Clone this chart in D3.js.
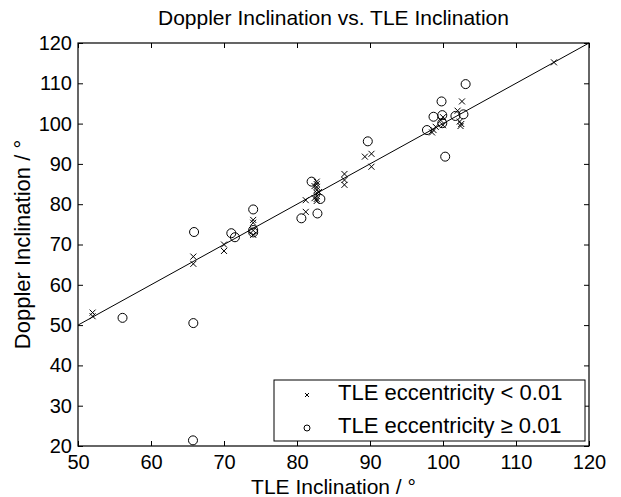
<!DOCTYPE html>
<html>
<head>
<meta charset="utf-8">
<script src="https://cdn.jsdelivr.net/npm/d3@7"></script>
<style>
  body { margin: 0; background: #fff; }
  svg { font-family: "Liberation Sans", Arial, sans-serif; }
</style>
</head>
<body>
<div class="visContainer"></div>
<script>
// TLE eccentricity < 0.01  [TLE inclination, Doppler inclination]
const lowEcc = [
  [52.0, 53.1], [52.0, 52.2], [65.8, 67.0], [65.8, 65.2], [70.0, 70.0], [70.0, 68.4],
  [74.0, 76.1], [74.0, 75.4], [74.0, 73.5], [74.0, 72.4], [81.2, 81.0], [81.2, 78.1],
  [82.7, 85.6], [82.7, 85.0], [82.7, 84.3], [82.7, 83.5], [82.7, 82.8], [82.7, 82.0],
  [82.7, 81.3], [82.7, 80.8], [82.4, 84.5], [82.4, 81.5], [83.0, 83.0],
  [86.5, 87.5], [86.5, 86.0], [86.5, 84.8], [89.3, 91.8], [90.2, 92.5], [90.2, 89.3],
  [98.7, 98.4], [98.5, 97.8], [99.0, 99.2], [100.0, 101.6], [100.0, 99.6], [99.7, 100.8],
  [102.6, 105.5], [102.0, 103.2], [102.3, 100.5], [102.5, 99.9], [102.4, 99.4],
  [115.2, 115.2]
];

// TLE eccentricity >= 0.01
const highEcc = [
  [56.1, 51.8], [65.9, 73.1], [65.8, 50.5], [65.75, 21.4], [71.0, 72.8], [71.5, 71.8],
  [74.0, 78.7], [74.0, 73.6], [74.0, 73.0], [80.6, 76.5], [82.0, 85.6], [83.2, 81.3],
  [82.8, 77.7], [89.7, 95.6], [103.1, 109.8], [99.8, 105.5], [98.7, 101.7], [99.9, 102.1],
  [97.8, 98.4], [99.9, 100.1], [101.7, 101.9], [102.8, 102.3], [100.3, 91.8]
];

const xTicks = [50, 60, 70, 80, 90, 100, 110, 120];
const yTicks = [20, 30, 40, 50, 60, 70, 80, 90, 100, 110, 120];
const legendLabels = ['TLE eccentricity < 0.01', 'TLE eccentricity \u2265 0.01'];

const width = 621;
const height = 497;
const margin = {top: 43, right: 32, bottom: 51, left: 78};

const svg = d3.select('.visContainer')
              .append('svg')
              .attr('width', width)
              .attr('height', height);

const xScale = d3.scaleLinear().domain([50, 120]).range([margin.left, width - margin.right]);
const yScale = d3.scaleLinear().domain([20, 120]).range([height - margin.bottom, margin.top]);

const x0 = margin.left, x1 = width - margin.right;
const y0 = margin.top, y1 = height - margin.bottom;

// axes with inward ticks on all four sides
const tickLen = 5;
svg.append('g')
   .attr('transform', `translate(0,${y1})`)
   .call(d3.axisBottom(xScale).tickValues(xTicks).tickSizeInner(-tickLen).tickSizeOuter(0).tickPadding(9))
   .call(g => g.selectAll('text').attr('font-size', 20).attr('fill', '#000'));
svg.append('g')
   .attr('transform', `translate(0,${y0})`)
   .call(d3.axisTop(xScale).tickValues(xTicks).tickSizeInner(-tickLen).tickSizeOuter(0).tickFormat(''));
svg.append('g')
   .attr('transform', `translate(${x0},0)`)
   .call(d3.axisLeft(yScale).tickValues(yTicks).tickSizeInner(-tickLen).tickSizeOuter(0).tickPadding(6))
   .call(g => g.selectAll('text').attr('font-size', 20).attr('fill', '#000'));
svg.append('g')
   .attr('transform', `translate(${x1},0)`)
   .call(d3.axisRight(yScale).tickValues(yTicks).tickSizeInner(-tickLen).tickSizeOuter(0).tickFormat(''));

svg.selectAll('.domain').remove();
svg.selectAll('.tick line').attr('stroke', '#000');

svg.append('rect')
   .attr('x', x0).attr('y', y0)
   .attr('width', x1 - x0).attr('height', y1 - y0)
   .attr('fill', 'none').attr('stroke', '#000').attr('stroke-width', 1.2);

// y = x reference line
svg.append('line')
   .attr('x1', xScale(50)).attr('y1', yScale(50))
   .attr('x2', xScale(120)).attr('y2', yScale(120))
   .attr('stroke', '#000').attr('stroke-width', 1);

// crosses
const cs = 3;
svg.append('g').selectAll('path')
   .data(lowEcc)
   .enter()
   .append('path')
   .attr('d', d => {
     const cx = xScale(d[0]), cy = yScale(d[1]);
     return `M${cx - cs},${cy - cs}L${cx + cs},${cy + cs}M${cx - cs},${cy + cs}L${cx + cs},${cy - cs}`;
   })
   .attr('stroke', '#000').attr('stroke-width', 1).attr('fill', 'none');

// circles
svg.append('g').selectAll('circle')
   .data(highEcc)
   .enter()
   .append('circle')
   .attr('cx', d => xScale(d[0]))
   .attr('cy', d => yScale(d[1]))
   .attr('r', 4.5)
   .attr('fill', 'none').attr('stroke', '#000').attr('stroke-width', 1);

// title and labels
svg.append('text')
   .attr('x', (x0 + x1) / 2).attr('y', 25)
   .attr('text-anchor', 'middle').attr('font-size', 21)
   .text('Doppler Inclination vs. TLE Inclination');
svg.append('text')
   .attr('x', (x0 + x1) / 2).attr('y', 494)
   .attr('text-anchor', 'middle').attr('font-size', 21)
   .text('TLE Inclination / \u00b0');
svg.append('text')
   .attr('transform', `translate(30,${(y0 + y1) / 2}) rotate(-90)`)
   .attr('text-anchor', 'middle').attr('font-size', 22)
   .text('Doppler Inclination / \u00b0');

// legend
const lg = svg.append('g').attr('transform', 'translate(274,380)');
lg.append('rect')
  .attr('width', 311).attr('height', 61)
  .attr('fill', '#fff').attr('stroke', '#000').attr('stroke-width', 1);
lg.append('path')
  .attr('d', 'M31,13L35,17M31,17L35,13')
  .attr('stroke', '#000').attr('fill', 'none');
lg.append('circle')
  .attr('cx', 33).attr('cy', 48).attr('r', 3)
  .attr('fill', 'none').attr('stroke', '#000');
lg.selectAll('text.lab')
  .data(legendLabels)
  .enter()
  .append('text')
  .attr('class', 'lab')
  .attr('x', 64)
  .attr('y', (d, i) => 20 + i * 33)
  .attr('font-size', 22)
  .text(d => d);
</script>
</body>
</html>
